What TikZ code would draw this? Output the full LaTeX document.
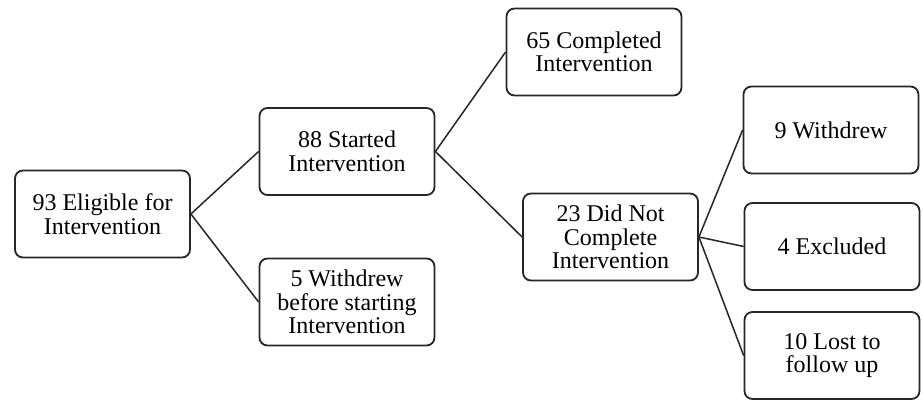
\documentclass[tikz,border=0pt]{standalone}
\usepackage{fontspec}
\setmainfont{Liberation Serif}
\newfontfamily\boxfont{Liberation Serif}

\begin{document}
\begin{tikzpicture}
  [x=1pt, y=1pt,
   every node/.style={draw=black!85, rounded corners=8pt, line width=1.8pt, align=center,
     minimum width=175pt, minimum height=87pt, inner sep=2pt,
     font=\boxfont\fontsize{24}{23.5}\selectfont},
   link/.style={draw=black!85, line width=1.5pt}]
  \useasboundingbox (0,0) rectangle (923,399);

  \node (eligible) at (102.5,185) {93 Eligible for\\Intervention};
  \node (started) at (347,247.5) {88 Started\\Intervention};
  \node (before) at (347,97) {5 Withdrew\\before starting\\Intervention};
  \node (completed) at (594,347) {65 Completed\\Intervention};
  \node (notdone) at (610.5,162) {23 Did Not\\Complete\\Intervention};
  \node (withdrew) at (831,269) {9 Withdrew};
  \node (excluded) at (832,152.5) {4 Excluded};
  \node (lost) at (832,43.5) {10 Lost to\\follow up};

  \draw[link] (eligible.east) -- (started.west);
  \draw[link] (eligible.east) -- (before.west);
  \draw[link] (started.east) -- (completed.west);
  \draw[link] (started.east) -- (notdone.west);
  \draw[link] (notdone.east) -- (withdrew.west);
  \draw[link] (notdone.east) -- (excluded.west);
  \draw[link] (notdone.east) -- (lost.west);
\end{tikzpicture}
\end{document}
